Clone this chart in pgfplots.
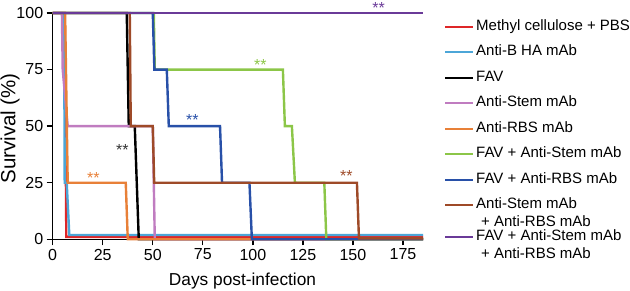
\documentclass[border=0pt]{standalone}
\usepackage{fontspec}
\setmainfont{Liberation Sans}
\usepackage{pgfplots}
\pgfplotsset{compat=1.18}
\definecolor{cRed}{RGB}{222,38,40}
\definecolor{cCyan}{RGB}{76,166,216}
\definecolor{cPink}{RGB}{192,124,192}
\definecolor{cOrange}{RGB}{232,128,56}
\definecolor{cGreen}{RGB}{140,198,72}
\definecolor{cBlue}{RGB}{40,80,168}
\definecolor{cBrown}{RGB}{158,74,40}
\definecolor{cPurple}{RGB}{106,58,152}
\newcommand{\ls}{\rule[-4pt]{0pt}{16pt}}
\begin{document}
\begin{tikzpicture}
\useasboundingbox (0,0) rectangle (630pt,291pt);
\begin{axis}[
  at={(52.7pt,51.7pt)}, anchor=south west,
  scale only axis, width=370.3pt, height=226.3pt,
  xmin=0, xmax=185, ymin=0, ymax=100,
  axis x line*=bottom, axis y line*=left,
  axis line style={line width=1.3pt, black},
  xtick={0,25,50,75,100,125,150,175},
  ytick={0,25,50,75,100},
  tick align=outside, major tick length=6pt,
  tick style={line width=1.3pt, black},
  /pgf/number format/assume math mode=true,
  ticklabel style={font=\fontsize{16}{19}\selectfont},
  xlabel={Days post-infection},
  ylabel={Survival (\%)},
  xlabel style={font=\fontsize{17.3}{20}\selectfont, at={(axis description cs:0.5126,-0.184)}, anchor=center},
  ylabel style={font=\fontsize{20.5}{24}\selectfont, at={(axis description cs:-0.115,0.49)}, anchor=center},
  clip=false,
  every axis plot/.append style={line width=2.4pt},
  legend image code/.code={\path[draw=none,fill=none] (0pt,3.5pt) -- (29pt,3.5pt); \draw[#1] (0pt,3.5pt) -- (27.7pt,3.5pt);},
  legend style={draw=none, fill=none, inner sep=0pt, outer sep=0pt,
    at={(axis description cs:1,1)}, anchor=north west, xshift=21pt, yshift=-3.3pt,
    font=\fontsize{15}{18}\selectfont, row sep=8pt,
    cells={anchor=base west, inner sep=0pt}},
]
% Methyl cellulose + PBS
\addplot[cRed] coordinates {(0,100) (6,100) (6.8,1.1) (185,1.1)};
\addlegendentry{\ls Methyl cellulose + PBS}
% Anti-B HA mAb
\addplot[cCyan] coordinates {(0,100) (5.7,100) (6,25) (7,25) (8.3,1.9) (185,1.9)};
\addlegendentry{\ls Anti-B HA mAb}
% FAV
\addplot[black] coordinates {(0,100) (37,100) (38,50) (41,50) (43,0) (185,0)};
\addlegendentry{\ls FAV}
% Anti-Stem mAb
\addplot[cPink] coordinates {(0,100) (4.6,100) (5,75) (7.5,50) (50,50) (51,0) (185,0)};
\addlegendentry{\ls Anti-Stem mAb}
% Anti-RBS mAb
\addplot[cOrange] coordinates {(0,100) (6.2,100) (7.5,25) (36.5,25) (37.5,0) (185,0)};
\addlegendentry{\ls Anti-RBS mAb}
% FAV + Anti-Stem mAb
\addplot[cGreen] coordinates {(0,100) (50.5,100) (51,75) (115,75) (116,50) (119.5,50) (121,25) (135.7,25) (136.7,0) (185,0)};
\addlegendentry{\ls FAV + Anti-Stem mAb}
% FAV + Anti-RBS mAb
\addplot[cBlue] coordinates {(0,100) (50,100) (50.8,75) (57,75) (58,50) (83.6,50) (84.6,25) (98.3,25) (99.5,0) (185,0)};
\addlegendentry{\ls FAV + Anti-RBS mAb}
% Anti-Stem + Anti-RBS
\addplot[cBrown] coordinates {(0,100) (38.5,100) (39,50) (50,50) (50.7,25) (152,25) (153,0.4) (185,0.4)};
\addlegendentry{\vtop{\hbox{\rule{0pt}{12pt}Anti-Stem mAb}\hbox{\hspace*{5pt}+ Anti-RBS mAb\rule[-2pt]{0pt}{0pt}}}}
% FAV + Anti-Stem + Anti-RBS
\addplot[cPurple] coordinates {(0,100) (185,100)};
\addlegendentry{\vtop{\hbox{\rule{0pt}{18pt}FAV + Anti-Stem mAb}\hbox{\hspace*{5pt}+ Anti-RBS mAb\rule[-2pt]{0pt}{0pt}}}}
\node[cPurple, font=\fontsize{16}{19}\selectfont] at (axis cs:162.8,102) {**};
\node[cGreen, font=\fontsize{16}{19}\selectfont] at (axis cs:103.7,77.2) {**};
\node[cBlue, font=\fontsize{16}{19}\selectfont] at (axis cs:69.8,52.6) {**};
\node[black!80, font=\fontsize{16}{19}\selectfont] at (axis cs:34.8,39.4) {**};
\node[cOrange, font=\fontsize{16}{19}\selectfont] at (axis cs:20.3,26.9) {**};
\node[cBrown, font=\fontsize{16}{19}\selectfont] at (axis cs:146.7,27.9) {**};
\end{axis}
\end{tikzpicture}
\end{document}
